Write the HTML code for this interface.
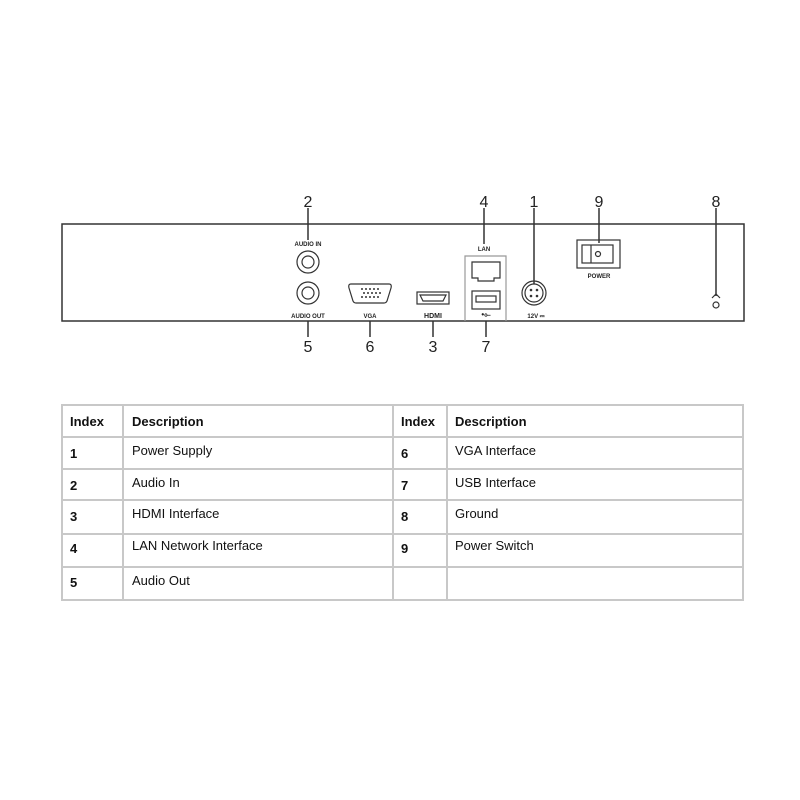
<!DOCTYPE html>
<html><head><meta charset="utf-8"><style>
html,body{margin:0;padding:0;background:#fff;width:800px;height:800px;overflow:hidden}
svg{display:block}
.n{font-family:"Liberation Sans",sans-serif;font-size:16px;fill:#222}
.s{font-family:"Liberation Sans",sans-serif;font-size:6px;font-weight:bold;fill:#222}
.h{font-family:"Liberation Sans",sans-serif;font-size:13px;font-weight:bold;fill:#111}
.t{font-family:"Liberation Sans",sans-serif;font-size:13px;fill:#111}
</style></head><body>
<svg width="800" height="800" viewBox="0 0 800 800">
<g stroke="#333" fill="none" stroke-width="1.5">
<rect x="62" y="224" width="682" height="97"/>
<!-- leader lines -->
<line x1="308" y1="208" x2="308" y2="240"/>
<line x1="484" y1="208" x2="484" y2="244"/>
<line x1="534" y1="208" x2="534" y2="284"/>
<line x1="599" y1="208" x2="599" y2="243"/>
<line x1="716" y1="208" x2="716" y2="296"/>
<line x1="308" y1="321" x2="308" y2="337"/>
<line x1="370" y1="321" x2="370" y2="337"/>
<line x1="433" y1="321" x2="433" y2="337"/>
<line x1="486" y1="321" x2="486" y2="337"/>
</g>
<g stroke="#333" fill="none" stroke-width="1.2">
<circle cx="308" cy="262" r="11"/><circle cx="308" cy="262" r="6"/>
<circle cx="308" cy="293" r="11"/><circle cx="308" cy="293" r="6"/>
<path d="M351 284 h38 q3 0 2 4 l-4 13 q-1 2 -3 2 h-28 q-2 0 -3 -2 l-4 -13 q-1 -4 2 -4z"/>
<rect x="417" y="292" width="32" height="12"/>
<path d="M420 295 h26 l-3 6 h-20z"/>
<path d="M465 260 v-4 h41 v4 M465 256 v65 M506 256 v65" stroke="#999"/>
<path d="M472 262 h28 v16 h-6 v3 h-16 v-3 h-6z"/>
<rect x="472" y="291" width="28" height="18"/>
<rect x="476" y="296" width="20" height="6"/>
<circle cx="534" cy="293" r="12"/><circle cx="534" cy="293" r="9"/>
<rect x="577" y="240" width="43" height="28"/>
<rect x="582" y="245" width="31" height="18"/>
<path d="M591 245 v18"/>
<circle cx="598" cy="254" r="2.5"/>
<circle cx="716" cy="305" r="3"/>
<path d="M712 298 l4 -4 l4 4"/>
</g>
<g fill="#333">
<circle cx="531" cy="290" r="1.3"/><circle cx="537" cy="290" r="1.3"/><circle cx="531" cy="296" r="1.3"/><circle cx="537" cy="296" r="1.3"/>
<g>
<circle cx="362" cy="289" r="1"/><circle cx="366" cy="289" r="1"/><circle cx="370" cy="289" r="1"/><circle cx="374" cy="289" r="1"/><circle cx="378" cy="289" r="1"/>
<circle cx="364" cy="293" r="1"/><circle cx="368" cy="293" r="1"/><circle cx="372" cy="293" r="1"/><circle cx="376" cy="293" r="1"/><circle cx="380" cy="293" r="1"/>
<circle cx="362" cy="297" r="1"/><circle cx="366" cy="297" r="1"/><circle cx="370" cy="297" r="1"/><circle cx="374" cy="297" r="1"/><circle cx="378" cy="297" r="1"/>
</g>
</g>
<text class="n" x="308" y="207" text-anchor="middle">2</text>
<text class="n" x="484" y="207" text-anchor="middle">4</text>
<text class="n" x="534" y="207" text-anchor="middle">1</text>
<text class="n" x="599" y="207" text-anchor="middle">9</text>
<text class="n" x="716" y="207" text-anchor="middle">8</text>
<text class="n" x="308" y="352" text-anchor="middle">5</text>
<text class="n" x="370" y="352" text-anchor="middle">6</text>
<text class="n" x="433" y="352" text-anchor="middle">3</text>
<text class="n" x="486" y="352" text-anchor="middle">7</text>
<text class="s" x="308" y="246" text-anchor="middle">AUDIO IN</text>
<text class="s" x="308" y="318" text-anchor="middle">AUDIO OUT</text>
<text class="s" x="370" y="318" text-anchor="middle">VGA</text>
<text class="s" x="433" y="318" text-anchor="middle" style="font-size:7px">HDMI</text>
<text class="s" x="484" y="251" text-anchor="middle">LAN</text>
<text class="s" x="486" y="317" text-anchor="middle" style="font-size:8px">•⟜</text>
<text class="s" x="536" y="318" text-anchor="middle">12V ⎓</text>
<text class="s" x="599" y="278" text-anchor="middle">POWER</text>
<!-- table -->
<g stroke="#c8c8c8" stroke-width="2" fill="none">
<rect x="62" y="405" width="681" height="195"/>
<line x1="62" y1="437" x2="743" y2="437"/>
<line x1="62" y1="469" x2="743" y2="469"/>
<line x1="62" y1="500" x2="743" y2="500"/>
<line x1="62" y1="534" x2="743" y2="534"/>
<line x1="62" y1="567" x2="743" y2="567"/>
<line x1="123" y1="405" x2="123" y2="600"/>
<line x1="393" y1="405" x2="393" y2="600"/>
<line x1="447" y1="405" x2="447" y2="600"/>
</g>
<text class="h" x="70" y="426">Index</text>
<text class="h" x="132" y="426">Description</text>
<text class="h" x="401" y="426">Index</text>
<text class="h" x="455" y="426">Description</text>
<text class="h" x="70" y="458">1</text><text class="t" x="132" y="455">Power Supply</text>
<text class="h" x="70" y="490">2</text><text class="t" x="132" y="487">Audio In</text>
<text class="h" x="70" y="521">3</text><text class="t" x="132" y="518">HDMI Interface</text>
<text class="h" x="70" y="553">4</text><text class="t" x="132" y="550">LAN Network Interface</text>
<text class="h" x="70" y="587">5</text><text class="t" x="132" y="585">Audio Out</text>
<text class="h" x="401" y="458">6</text><text class="t" x="455" y="455">VGA Interface</text>
<text class="h" x="401" y="490">7</text><text class="t" x="455" y="487">USB Interface</text>
<text class="h" x="401" y="521">8</text><text class="t" x="455" y="518">Ground</text>
<text class="h" x="401" y="553">9</text><text class="t" x="455" y="550">Power Switch</text>
</svg>
</body></html>
